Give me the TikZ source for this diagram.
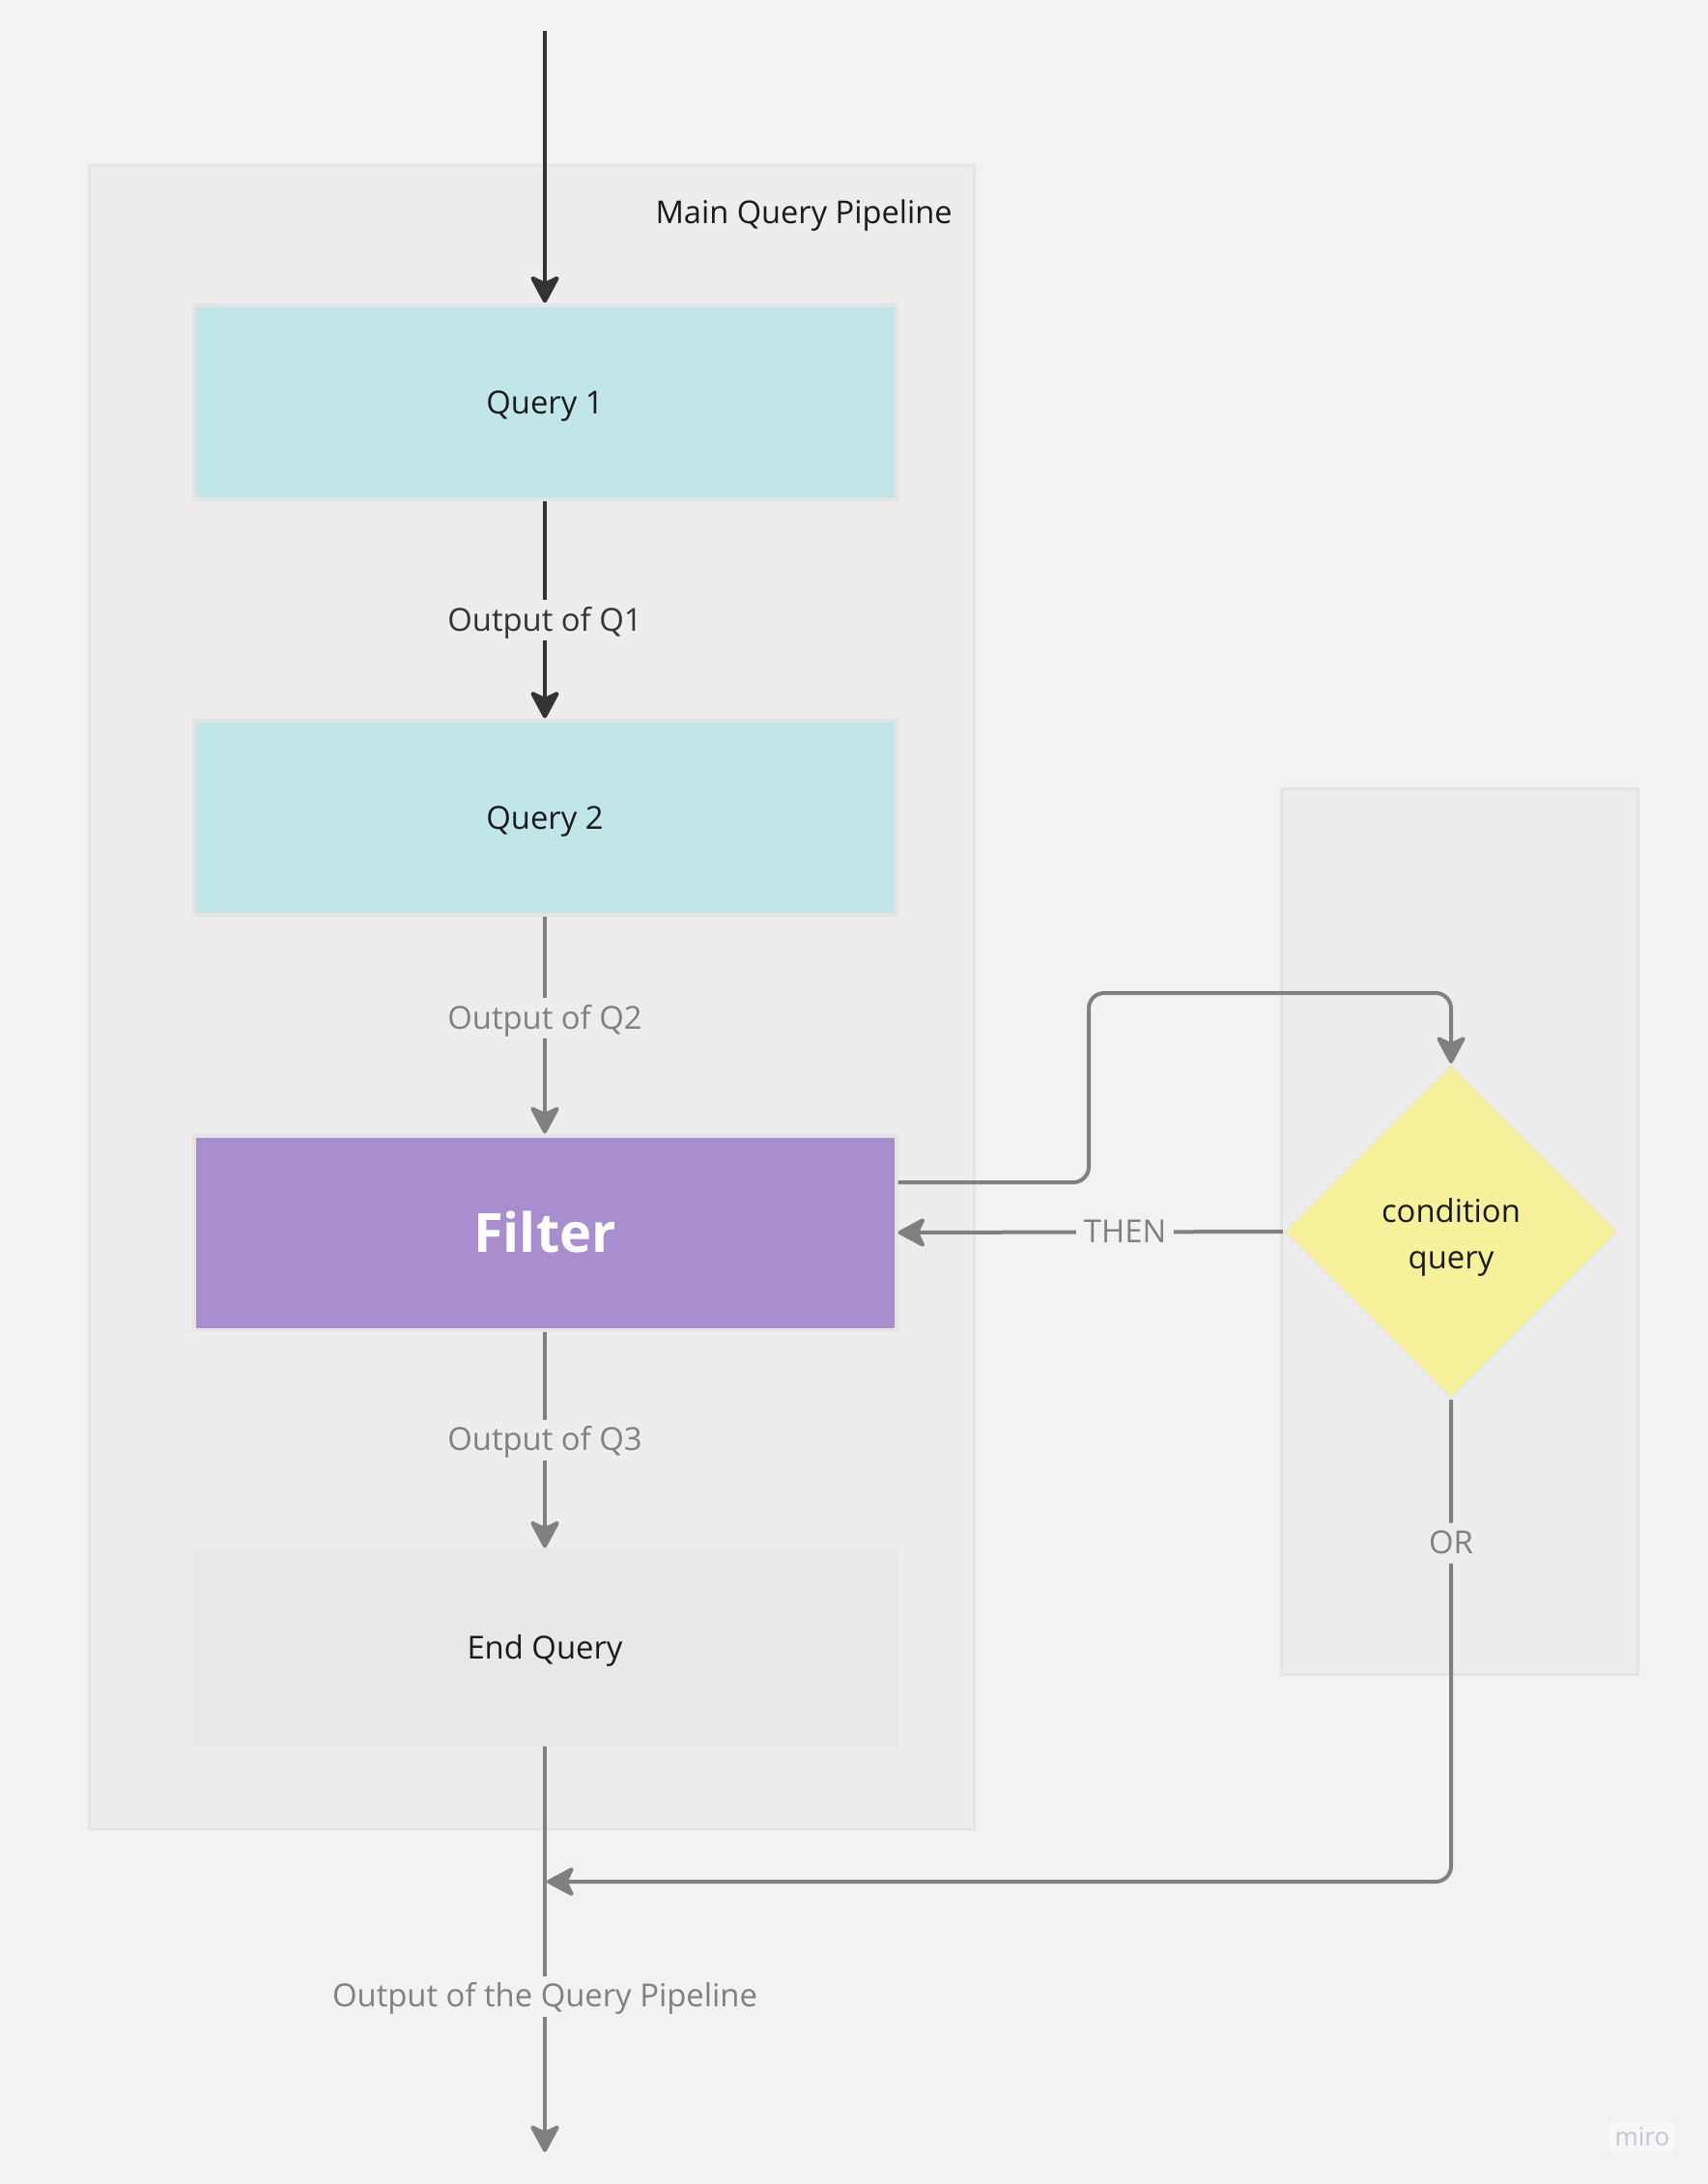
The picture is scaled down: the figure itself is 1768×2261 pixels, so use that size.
\documentclass[tikz,border=0pt]{standalone}
\usepackage{fontspec}
\setmainfont{Open Sans}
\usetikzlibrary{arrows.meta,shapes.geometric}
\definecolor{bgc}{HTML}{F2F2F2}
\definecolor{contf}{HTML}{EDEDED}
\definecolor{contd}{HTML}{E4E4E4}
\definecolor{qfill}{HTML}{C0E6E7}
\definecolor{boxd}{HTML}{E4E4E4}
\definecolor{filterc}{HTML}{A88DCF}
\definecolor{endf}{HTML}{E8E8E8}
\definecolor{diaf}{HTML}{F6F19A}
\definecolor{diad}{HTML}{E8E8E2}
\definecolor{darkc}{HTML}{333333}
\definecolor{grayc}{HTML}{808080}
\definecolor{textc}{HTML}{1A1A1A}
\definecolor{miroc}{HTML}{C6C6D2}
\begin{document}
\begin{tikzpicture}[x=0.5pt,y=-0.5pt,
  container/.style={fill=contf,draw=contd,line width=1.5pt},
  basebox/.style={rectangle,minimum width=363.5pt,minimum height=100.5pt,line width=2pt,
    text=textc,font=\fontsize{16.4}{24}\selectfont,text height=16pt,text depth=4pt},
  qbox/.style={basebox,fill=qfill,draw=boxd},
  fbox/.style={basebox,fill=filterc,draw=boxd,text=white,font=\bfseries\fontsize{28}{34}\selectfont,
    text height=20pt,text depth=0pt},
  ebox/.style={basebox,fill=endf,draw=endf},
  dia/.style={diamond,aspect=1,minimum size=173pt,inner sep=0pt,fill=diaf,draw=diad,line width=1pt,
    align=center,text=textc,font=\fontsize{16.4}{24}\selectfont},
  lbl/.style={inner xsep=4pt,inner ysep=1pt,font=\fontsize{16.4}{20}\selectfont,text=grayc,
    text height=15pt,text depth=4pt},
  darkarrow/.style={draw=darkc,line width=2.1pt,-{Stealth[length=16pt,width=17pt,inset=4pt,round]}},
  grayarrow/.style={draw=grayc,line width=2pt,-{Stealth[length=16pt,width=17pt,inset=4pt,round]}}
]
\fill[bgc] (0,0) rectangle (1768,2261);
\useasboundingbox (0,0) rectangle (1768,2261);

% containers
\draw[container] (92.5,171.5) rectangle (1008.5,1893.5);
\draw[container] (1326.5,816.5) rectangle (1695,1733.5);
\node[anchor=base east,text=textc,font=\fontsize{16.3}{20}\selectfont,inner sep=0pt] (title) at (986,231) {Main Query Pipeline};

% nodes
\node[qbox] (q1) at (564,416) {Query 1};
\node[qbox] (q2) at (564,846) {Query 2};
\node[fbox] (flt) at (564,1276) {Filter};
\node[ebox] (endq) at (564,1705) {End Query};
\node[dia] (dia) at (1502,1275) {\rule{0pt}{18.3pt}condition\\query};

\coordinate (start) at (564,32);
\coordinate (bend) at (1127,1028);
\coordinate (merge) at (566,1948);
\coordinate (out) at (564,2228);

% connectors
\draw[darkarrow] (start) -- (q1);
\draw[darkarrow] (q1) -- node[lbl,fill=contf,text=darkc,pos=0.55] (l1) {Output of Q1} (q2);
\draw[grayarrow] (q2) -- node[lbl,fill=contf,pos=0.47] (l2) {Output of Q2} (flt);
\draw[grayarrow] (flt) -- node[lbl,fill=contf,pos=0.5] (l3) {Output of Q3} (endq);
\draw[grayarrow] (endq) -- node[lbl,fill=bgc,pos=0.616] (l4) {Output of the Query Pipeline} (out);
\draw[grayarrow,rounded corners=8pt] ([yshift=26pt]flt.east) -| (bend) -| (dia.north);
\draw[grayarrow] (dia.west) -- node[lbl,fill=bgc,pos=0.41] (l5) {THEN} (flt.east);
\draw[grayarrow,rounded corners=8pt] (dia.south) |- node[lbl,fill=contf,pos=0.149] (l6) {OR} (merge);

% watermark
\node[fill=bgc!60!white,text=miroc,font=\fontsize{13}{15}\selectfont,inner sep=3pt] (miro) at (1700,2212) {miro};
\end{tikzpicture}
\end{document}
